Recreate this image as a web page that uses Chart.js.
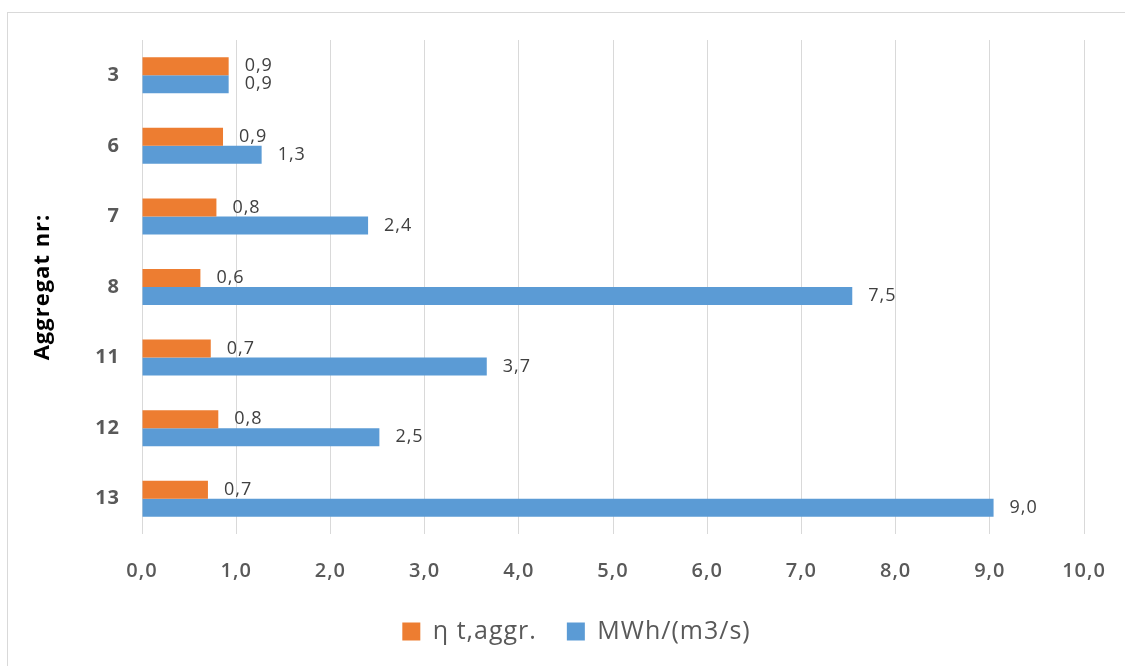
<!DOCTYPE html>
<html>
<head>
<meta charset="utf-8">
<script src="https://cdn.jsdelivr.net/npm/chart.js@4.4.1/dist/chart.umd.min.js"></script>
<style>
  html, body { margin: 0; padding: 0; background: #fff; }
  #wrap { position: relative; width: 1125px; height: 666px; overflow: hidden; }
  #frame { position: absolute; left: 7px; top: 12px; width: 1140px; height: 700px; border: 1px solid #d9d9d9; }
  #chart { position: absolute; left: 0; top: 0; }
</style>
</head>
<body>
<div id="wrap">
  <div id="frame"></div>
  <canvas id="chart" width="1125" height="666"></canvas>
</div>
<script>
// Datos del gráfico
const aggregater = ['3', '6', '7', '8', '11', '12', '13'];
const etaAggr = [0.92, 0.86, 0.79, 0.62, 0.73, 0.81, 0.70];
const mwhPerM3s = [0.92, 1.27, 2.40, 7.54, 3.66, 2.52, 9.04];
const xTicks = [0, 1, 2, 3, 4, 5, 6, 7, 8, 9, 10];

const fmt = v => v.toFixed(1).replace('.', ',');

// Texto un poco más ancho, como en la imagen original
// (el contexto se reinicia al redimensionar el canvas, por eso se pone en cada update/draw)
const wideText = {
    id: 'wideText',
    beforeUpdate(chart) { chart.ctx.letterSpacing = '1px'; },
    beforeDraw(chart) { chart.ctx.letterSpacing = '1px'; }
};

// Etiquetas de valor al final de cada barra
const valueLabels = {
    id: 'valueLabels',
    afterDatasetsDraw(chart) {
        const ctx = chart.ctx;
        ctx.save();
        ctx.font = '18px "Open Sans"';
        ctx.fillStyle = '#404040';
        ctx.textAlign = 'left';
        ctx.textBaseline = 'middle';
        chart.data.datasets.forEach((ds, i) => {
            chart.getDatasetMeta(i).data.forEach((bar, j) => {
                ctx.fillText(fmt(ds.data[j]), bar.x + 16, bar.y);
            });
        });
        ctx.restore();
    }
};

new Chart(document.getElementById('chart'), {
    type: 'bar',
    data: {
        labels: aggregater,
        datasets: [{
            label: 'η t,aggr.',
            data: etaAggr,
            backgroundColor: '#ED7D31'
        }, {
            label: 'MWh/(m3/s)',
            data: mwhPerM3s,
            backgroundColor: '#5B9BD5'
        }]
    },
    options: {
        indexAxis: 'y',
        responsive: false,
        animation: false,
        layout: { padding: { top: 40, left: 69, right: 41, bottom: 12 } },
        datasets: { bar: { categoryPercentage: 0.51, barPercentage: 1 } },
        scales: {
            x: {
                min: 0,
                max: 10,
                afterBuildTicks: scale => { scale.ticks = xTicks.map(v => ({ value: v })); },
                afterFit: scale => { scale.height = 55; scale.paddingLeft = 0; scale.paddingRight = 0; },
                grid: { color: '#d9d9d9', drawTicks: false },
                border: { display: false },
                ticks: {
                    padding: 25,
                    color: '#595959',
                    font: { family: '"Open Sans"', size: 20, weight: '600' },
                    callback: v => fmt(v)
                }
            },
            y: {
                grid: { display: false, drawTicks: false },
                border: { display: false },
                afterFit: scale => { scale.width = 73; scale.paddingTop = 0; scale.paddingBottom = 0; },
                ticks: {
                    padding: 22,
                    color: '#595959',
                    font: { family: '"Open Sans"', size: 20, weight: 'bold' }
                },
                title: {
                    display: true,
                    text: 'Aggregat nr:',
                    color: '#000',
                    padding: { top: -39, bottom: 0 },
                    font: { family: '"Open Sans"', size: 22, weight: 'bold' }
                }
            }
        },
        plugins: {
            legend: {
                position: 'bottom',
                labels: {
                    boxWidth: 18,
                    boxHeight: 18,
                    padding: 30,
                    color: '#595959',
                    font: { family: '"Open Sans"', size: 25 }
                }
            },
            tooltip: { enabled: false }
        }
    },
    plugins: [wideText, valueLabels]
});
</script>
</body>
</html>
